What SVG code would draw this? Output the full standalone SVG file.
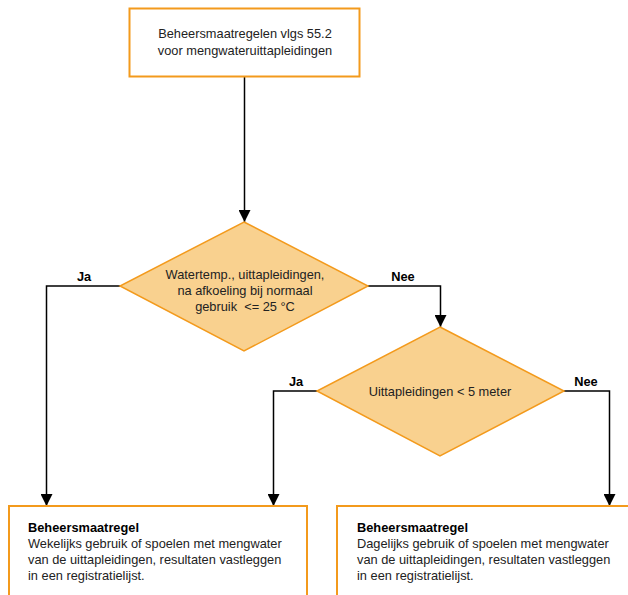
<svg xmlns="http://www.w3.org/2000/svg" width="628" height="595" viewBox="0 0 628 595">
<defs>
<marker id="ah" viewBox="0 0 12 12" refX="12" refY="6" markerWidth="12" markerHeight="12" markerUnits="userSpaceOnUse" orient="auto">
<path d="M0,0 L12,6 L0,12 Z" fill="#000"/>
</marker>
<style>
.box{fill:#fff;stroke:#f39a1c;stroke-width:2}
.dia{fill:#f9d18f;stroke:#f39a1c;stroke-width:1.5}
.t{font-family:"Liberation Sans",Arial,sans-serif;font-size:12.8px;fill:#222;white-space:pre}
.c{text-anchor:middle}
.b{font-weight:bold;fill:#000}
.ln{fill:none;stroke:#000;stroke-width:1.5}
</style>
</defs>
<rect width="628" height="595" fill="#fff"/>
<g id="connectors">
<path class="ln" d="M244.5,77 V222" marker-end="url(#ah)"/>
<path class="ln" d="M120,286 H46.5 V506" marker-end="url(#ah)"/>
<path class="ln" d="M368,286 H440.5 V327" marker-end="url(#ah)"/>
<path class="ln" d="M317,391 H273.5 V506" marker-end="url(#ah)"/>
<path class="ln" d="M564,391 H609.5 V506" marker-end="url(#ah)"/>
<text class="t b c" x="84" y="281">Ja</text>
<text class="t b c" x="403" y="281">Nee</text>
<text class="t b c" x="296" y="386">Ja</text>
<text class="t b c" x="586" y="386">Nee</text>
</g>
<g id="start">
<rect class="box" x="129.5" y="8.5" width="230" height="68"/>
<text class="t c" x="245" y="38">Beheersmaatregelen vlgs 55.2</text>
<text class="t c" x="245" y="55">voor mengwateruittapleidingen</text>
</g>
<g id="decision1">
<polygon class="dia" points="244,222 368,286 244,351 120,286"/>
<text class="t c" x="245" y="279">Watertemp., uittapleidingen,</text>
<text class="t c" x="245" y="295">na afkoeling bij normaal</text>
<text class="t c" x="245" y="311" xml:space="preserve">gebruik  &lt;= 25 °C</text>
</g>
<g id="decision2">
<polygon class="dia" points="440,327 564,391 440,456 317,391"/>
<text class="t c" x="440" y="396">Uittapleidingen &lt; 5 meter</text>
</g>
<g id="weekly">
<rect class="box" x="9" y="506" width="298" height="100"/>
<text class="t b" x="28" y="532">Beheersmaatregel</text>
<text class="t" x="28" y="548">Wekelijks gebruik of spoelen met mengwater</text>
<text class="t" x="28" y="564">van de uittapleidingen, resultaten vastleggen</text>
<text class="t" x="28" y="580">in een registratielijst.</text>
</g>
<g id="daily">
<rect class="box" x="337" y="506" width="300" height="100"/>
<text class="t b" x="357" y="532">Beheersmaatregel</text>
<text class="t" x="357" y="548">Dagelijks gebruik of spoelen met mengwater</text>
<text class="t" x="357" y="564">van de uittapleidingen, resultaten vastleggen</text>
<text class="t" x="357" y="580">in een registratielijst.</text>
</g>
</svg>
